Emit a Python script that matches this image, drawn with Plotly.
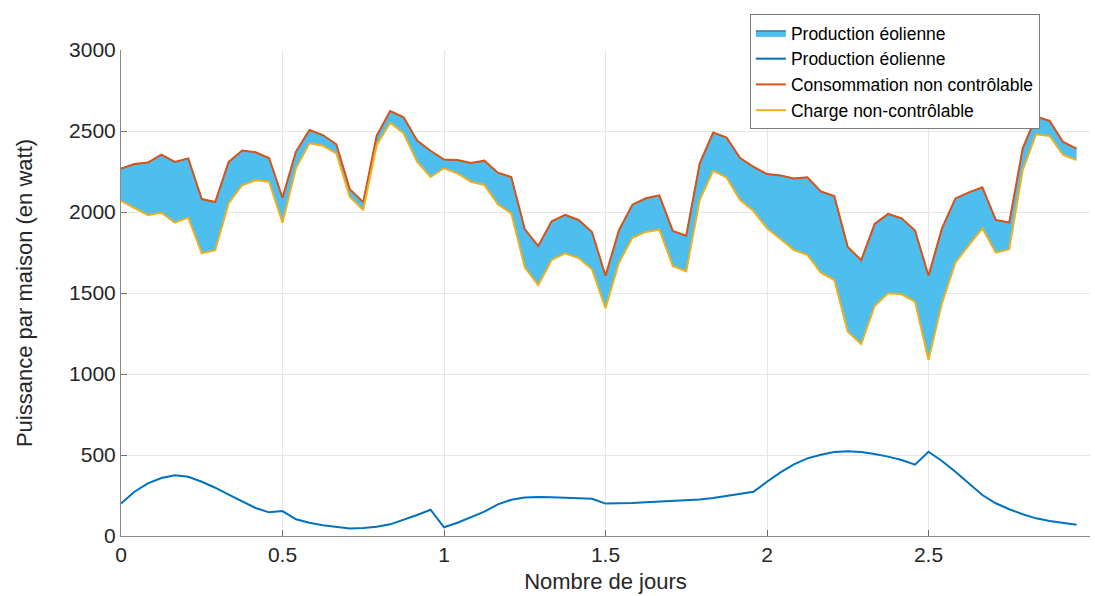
import numpy as np
import plotly.graph_objects as go

# Hourly samples over three days (x in days)
hours = list(range(72))
jours = [h / 24 for h in hours]

# Wind production per house (W)
production_eolienne = [
    200, 273, 325, 358, 375, 366, 335, 298, 255, 214, 173, 146,
    154, 103, 82, 66, 56, 47, 49, 57, 72, 99, 130, 162,
    54, 82, 115, 150, 195, 224, 237, 241, 239, 237, 235, 230,
    200, 201, 204, 208, 212, 216, 220, 226, 235, 247, 259, 273,
    335, 393, 442, 479, 502, 518, 523, 518, 506, 490, 469, 440,
    520, 463, 397, 325, 253, 202, 165, 134, 109, 93, 80, 70,
]

# Non-controllable load per house (W)
charge_non_controlable = [
    2068, 2023, 1980, 1996, 1934, 1965, 1745, 1764, 2054, 2165, 2196, 2187,
    1934, 2270, 2424, 2409, 2362, 2093, 2012, 2414, 2551, 2486, 2311, 2216,
    2270, 2239, 2187, 2167, 2048, 1992, 1658, 1549, 1704, 1745, 1716, 1646,
    1406, 1687, 1841, 1877, 1891, 1667, 1634, 2074, 2255, 2212, 2074, 2006,
    1899, 1833, 1765, 1735, 1625, 1580, 1261, 1185, 1420, 1498, 1492, 1446,
    1086, 1436, 1687, 1796, 1899, 1749, 1770, 2259, 2480, 2469, 2352, 2321,
]

# Non-controllable consumption = load + wind production
consommation = list(np.array(charge_non_controlable) + np.array(production_eolienne))

x_ticks = [0, 0.5, 1, 1.5, 2, 2.5, 3]
y_ticks = [0, 500, 1000, 1500, 2000, 2500, 3000]

font_family = "Liberation Sans, Arial, sans-serif"
text_color = "#262626"

fig = go.Figure()

# Lower bound of the shaded band
fig.add_trace(go.Scatter(
    x=jours, y=charge_non_controlable, mode="lines",
    line=dict(color="rgba(0,0,0,0)", width=0),
    showlegend=False, hoverinfo="skip",
))
# Shaded band = wind production stacked on the load
fig.add_trace(go.Scatter(
    x=jours, y=consommation, mode="lines", fill="tonexty",
    fillcolor="#4DBEEE", line=dict(color="#1b4f72", width=1),
    name="Production éolienne",
))
fig.add_trace(go.Scatter(
    x=jours, y=production_eolienne, mode="lines",
    line=dict(color="#0072BD", width=2),
    name="Production éolienne",
))
fig.add_trace(go.Scatter(
    x=jours, y=consommation, mode="lines",
    line=dict(color="#D95319", width=2),
    name="Consommation non contrôlable",
))
fig.add_trace(go.Scatter(
    x=jours, y=charge_non_controlable, mode="lines",
    line=dict(color="#EDB120", width=2),
    name="Charge non-contrôlable",
))

axis_common = dict(
    showgrid=True, gridcolor="#e6e6e6", gridwidth=1,
    showline=True, linecolor="#8a8a8a", linewidth=1,
    ticks="inside", ticklen=6, tickcolor="#6e6e6e",
    tickfont=dict(size=21, color=text_color, family=font_family),
    zeroline=False, mirror=False,
)

fig.update_layout(
    width=1095, height=596,
    margin=dict(l=121, r=5, t=50, b=60),
    paper_bgcolor="white", plot_bgcolor="white",
    font=dict(family=font_family, color=text_color),
    xaxis=dict(
        range=[0, 3], tickvals=x_ticks, ticktext=[f"{v:g}" for v in x_ticks],
        title=dict(text="Nombre de jours", font=dict(size=22), standoff=8),
        **axis_common,
    ),
    yaxis=dict(
        range=[0, 3000], tickvals=y_ticks, ticktext=[str(v) for v in y_ticks],
        title=dict(text="Puissance par maison (en watt)", font=dict(size=22), standoff=30),
        **axis_common,
    ),
    legend=dict(
        x=0.649, y=1.074, xanchor="left", yanchor="top",
        bgcolor="white", bordercolor="#7a7a7a", borderwidth=1,
        font=dict(size=17.5, color="#000000", family=font_family),
        tracegroupgap=0, itemwidth=30, traceorder="normal",
    ),
    showlegend=True,
)

fig.write_html("out.html")
